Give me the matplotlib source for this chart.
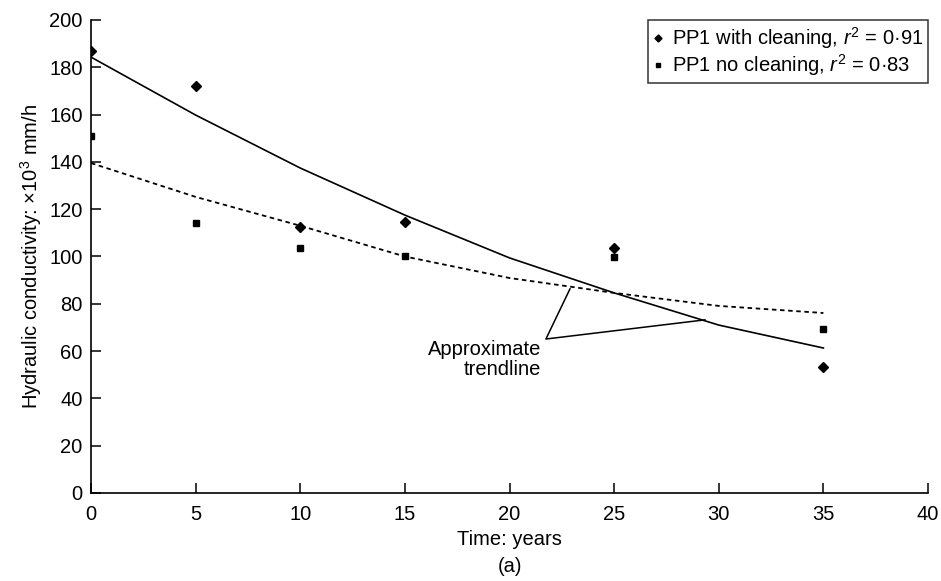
import numpy as np
import matplotlib
matplotlib.use("Agg")
import matplotlib.pyplot as plt

plt.rcParams['font.family'] = ['Liberation Sans', 'DejaVu Sans']
plt.rcParams['mathtext.fontset'] = 'custom'
plt.rcParams['mathtext.rm'] = 'Liberation Sans'
plt.rcParams['mathtext.it'] = 'Liberation Sans:italic'

# measured points
years = [0, 5, 10, 15, 25, 35]
with_cleaning = [187, 172, 112.5, 114.6, 103.6, 53.3]
no_cleaning = [151, 114.2, 103.6, 100.2, 99.8, 69.3]

# trendlines
trend_years = [0, 5, 10, 15, 20, 25, 30, 35]
trend_cleaning = [184.3, 159.8, 137.4, 117.5, 99.4, 84.6, 71.0, 61.3]
trend_no_cleaning = [139.5, 125.2, 113.0, 100.0, 90.9, 84.6, 79.1, 76.1]

FS = 14.5

fig = plt.figure(figsize=(9.41, 5.81), dpi=100)
ax = fig.add_axes([0.0967, 0.1515, 0.8895, 0.8141])

ax.plot(trend_years, trend_cleaning, color='black', lw=1.2)
ax.plot(trend_years, trend_no_cleaning, color='black', lw=1.3, linestyle=(0, (2.5, 2)))
ax.plot(years, with_cleaning, linestyle='none', marker='D', ms=5.5, color='black',
        label='PP1 with cleaning, $r^2$ = 0·91')
ax.plot(years, no_cleaning, linestyle='none', marker='s', ms=4.5, color='black',
        label='PP1 no cleaning, $r^2$ = 0·83')

# annotation
apex = (21.74, 65.1)
ax.plot([22.89, apex[0], 29.34], [86.3, apex[1], 73.2], color='black', lw=1.1)
ax.text(21.5, 64.5, 'Approximate\ntrendline', ha='right', va='top', fontsize=FS,
        linespacing=1.05)

ax.set_xlim(0, 40)
ax.set_ylim(0, 200)
ax.set_xticks(range(0, 41, 5))
ax.set_yticks(range(0, 201, 20))
ax.tick_params(direction='in', length=7, width=1.1, labelsize=FS)
ax.tick_params(axis='x', pad=9)
ax.tick_params(axis='y', pad=6)
for s in ['top', 'right']:
    ax.spines[s].set_visible(False)
for s in ['left', 'bottom']:
    ax.spines[s].set_linewidth(1.2)

ax.set_ylabel('Hydraulic conductivity: ×10$^3$ mm/h', fontsize=FS, labelpad=4)
ax.set_xlabel('Time: years', fontsize=FS, labelpad=4)
fig.text(0.5415, (581 - 567) / 581, '(a)', ha='center', va='center', fontsize=FS)

leg = ax.legend(loc='upper right', bbox_to_anchor=(1.0, 1.0), borderaxespad=0,
                fontsize=FS, frameon=True, fancybox=False, handlelength=0.5,
                handletextpad=0.4, markerscale=0.65, borderpad=0.25, labelspacing=0.05)
leg.get_frame().set_edgecolor('black')
leg.get_frame().set_linewidth(1.1)

fig.savefig('out.png', dpi=100)
